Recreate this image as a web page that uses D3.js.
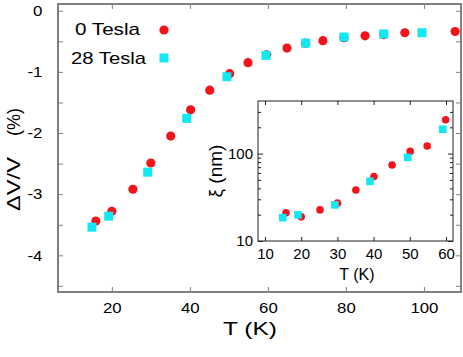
<!DOCTYPE html>
<html>
<head>
<meta charset="utf-8">
<script src="https://cdn.jsdelivr.net/npm/d3@7"></script>
<style>
  body { margin: 0; background: #fff; }
  svg { display: block; font-family: "Liberation Sans", Arial, sans-serif; }
</style>
</head>
<body>
<svg id="chart" width="463" height="357"></svg>
<script>
// main panel: relative volume change vs temperature
var T0 = [15.9, 20, 25.4, 30, 35.1, 40.2, 45.1, 50.2, 54.9, 59.7, 64.9, 69.7, 74.1, 79.5, 84.9, 89.7, 95.1, 108]
var dV0 = [-3.44, -3.28, -2.92, -2.49, -2.05, -1.62, -1.30, -1.03, -0.85, -0.72, -0.61, -0.53, -0.49, -0.44, -0.41, -0.39, -0.36, -0.34]
var T28 = [14.9, 19.2, 29.2, 39.2, 49.5, 59.5, 69.7, 79.5, 89.7, 99.5]
var dV28 = [-3.54, -3.36, -2.64, -1.76, -1.08, -0.73, -0.53, -0.43, -0.38, -0.36]
var xTicks = [20, 40, 60, 80, 100]
var yTicks = [-4.5, -4, -3.5, -3, -2.5, -2, -1.5, -1, -0.5, 0]

// inset: correlation length vs temperature
var Ti0 = [15.8, 20, 25.2, 30, 35.1, 40.1, 45.1, 50.1, 54.8, 59.9]
var xi0 = [21.0, 18.9, 22.7, 27.1, 38.3, 54.8, 74.1, 106, 122, 244]
var Ti28 = [14.9, 19.1, 29.3, 39.0, 49.4, 59.1]
var xi28 = [18.5, 19.9, 25.9, 48.1, 90.5, 190]
var xiTicksX = [10, 20, 30, 40, 50, 60]

var legendNames = ["0 Tesla", "28 Tesla"]
var red = "#f2131b", cyan = "#12e8f2"

var svg = d3.select("#chart")

// ---------- main plot ----------
var x = d3.scaleLinear().domain([6.2, 109.5]).range([58, 461])
var y = d3.scaleLinear().domain([-4.6, 0.11]).range([292, 4])

var gray = "#808080"

function styleAxis(g, color) {
  g.select(".domain").remove()
  g.selectAll("line").attr("stroke", color)
  g.selectAll("text").attr("fill", "#000")
}

var bx = svg.append("g").attr("transform", "translate(0,292)")
  .call(d3.axisBottom(x).tickValues(xTicks).tickSizeInner(-5).tickSizeOuter(0).tickPadding(10))
bx.call(styleAxis, gray)
bx.selectAll("text").style("font-size", "15px").attr("transform", "scale(1.12,1)")

var tx = svg.append("g").attr("transform", "translate(0,4)")
  .call(d3.axisTop(x).tickValues(xTicks).tickSizeInner(-5).tickSizeOuter(0).tickFormat(""))
tx.call(styleAxis, gray)

var ly = svg.append("g").attr("transform", "translate(58,0)")
  .call(d3.axisLeft(y).tickValues(yTicks).tickSizeInner(-5).tickSizeOuter(0).tickPadding(14)
    .tickFormat(function(d) { return Number.isInteger(d) ? d3.format("d")(d).replace("−", "-") : "" }))
ly.call(styleAxis, gray)
ly.selectAll("text").style("font-size", "15px").attr("transform", "scale(1.12,1)")

var ry = svg.append("g").attr("transform", "translate(461,0)")
  .call(d3.axisRight(y).tickValues(yTicks).tickSizeInner(-5).tickSizeOuter(0).tickFormat(""))
ry.call(styleAxis, gray)

svg.append("rect").attr("x", 58).attr("y", 4).attr("width", 403).attr("height", 288)
  .attr("fill", "none").attr("stroke", gray).attr("stroke-width", 2)

// axis titles
svg.append("text").attr("x", 223).attr("y", 335).text("T (K)")
  .style("font-size", "19px").attr("textLength", 54).attr("lengthAdjust", "spacingAndGlyphs")
svg.append("text").attr("transform", "translate(20,184) rotate(-90)").attr("text-anchor", "middle")
  .text("ΔV/V").style("font-size", "19px").attr("textLength", 54).attr("lengthAdjust", "spacingAndGlyphs")
svg.append("text").attr("transform", "translate(20,122) rotate(-90)").attr("text-anchor", "middle")
  .text("(%)").style("font-size", "18px")

// data
svg.append("g").selectAll("circle").data(T0).join("circle")
  .attr("cx", function(d) { return x(d) }).attr("cy", function(d, i) { return y(dV0[i]) })
  .attr("r", 4.6).attr("fill", red)
svg.append("g").selectAll("rect").data(T28).join("rect")
  .attr("x", function(d) { return x(d) - 4.5 }).attr("y", function(d, i) { return y(dV28[i]) - 4.5 })
  .attr("width", 9).attr("height", 9).attr("fill", cyan)

// handmade legend
svg.append("text").attr("x", 75).attr("y", 35).text(legendNames[0])
  .style("font-size", "17px").attr("textLength", 65).attr("lengthAdjust", "spacingAndGlyphs")
svg.append("circle").attr("cx", 164).attr("cy", 30).attr("r", 4.6).attr("fill", red)
svg.append("text").attr("x", 71).attr("y", 64).text(legendNames[1])
  .style("font-size", "17px").attr("textLength", 75).attr("lengthAdjust", "spacingAndGlyphs")
svg.append("rect").attr("x", 159.5).attr("y", 53.5).attr("width", 9).attr("height", 9).attr("fill", cyan)

// ---------- inset ----------
var xi = d3.scaleLinear().domain([8.07, 61.93]).range([258, 453])
var yi = d3.scaleLog().domain([10, 400]).range([241, 101])
var dark = "#222"

svg.append("rect").attr("x", 258).attr("y", 101).attr("width", 195).attr("height", 140).attr("fill", "#fff")

var ibx = svg.append("g").attr("transform", "translate(0,241)")
  .call(d3.axisBottom(xi).tickValues(xiTicksX).tickSizeInner(-4).tickSizeOuter(0).tickPadding(7))
ibx.call(styleAxis, dark)
ibx.selectAll("text").style("font-size", "15px")

var itx = svg.append("g").attr("transform", "translate(0,101)")
  .call(d3.axisTop(xi).tickValues(xiTicksX).tickSizeInner(-4).tickSizeOuter(0).tickFormat(""))
itx.call(styleAxis, dark)

var logTicks = yi.ticks().filter(function(d) { return d < 400 })
function isMajor(d) { return d === 10 || d === 100 }

var ily = svg.append("g").attr("transform", "translate(258,0)")
  .call(d3.axisLeft(yi).tickValues(logTicks).tickSizeInner(-4).tickSizeOuter(0).tickPadding(5)
    .tickFormat(function(d) { return isMajor(d) ? d : "" }))
ily.call(styleAxis, dark)
ily.selectAll("text").style("font-size", "15px")
ily.selectAll(".tick line").attr("x2", function(d) { return isMajor(d) ? 5 : 3 })

var iry = svg.append("g").attr("transform", "translate(453,0)")
  .call(d3.axisRight(yi).tickValues(logTicks).tickSizeInner(-4).tickSizeOuter(0).tickFormat(""))
iry.call(styleAxis, dark)
iry.selectAll(".tick line").attr("x2", function(d) { return isMajor(d) ? -5 : -3 })

svg.append("rect").attr("x", 258).attr("y", 101).attr("width", 195).attr("height", 140)
  .attr("fill", "none").attr("stroke", dark).attr("stroke-width", 1)

svg.append("text").attr("x", 357).attr("y", 280).attr("text-anchor", "middle").text("T (K)").style("font-size", "16px")
svg.append("text").attr("transform", "translate(222,171) rotate(-90)").attr("text-anchor", "middle")
  .text("ξ (nm)").style("font-size", "19px")

svg.append("g").selectAll("circle").data(Ti0).join("circle")
  .attr("cx", function(d) { return xi(d) }).attr("cy", function(d, i) { return yi(xi0[i]) })
  .attr("r", 3.8).attr("fill", red)
svg.append("g").selectAll("rect").data(Ti28).join("rect")
  .attr("x", function(d) { return xi(d) - 3.8 }).attr("y", function(d, i) { return yi(xi28[i]) - 3.8 })
  .attr("width", 7.6).attr("height", 7.6).attr("fill", cyan)
</script>
</body>
</html>
